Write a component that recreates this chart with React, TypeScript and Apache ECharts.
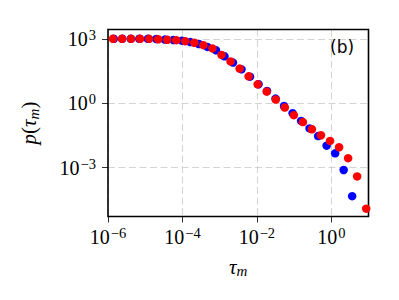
import React, { useEffect, useRef } from "react";
import * as echarts from "echarts";

// Waiting-time distribution p(tau_m), two estimates on log-log axes
const tauBlue = [
  1.43e-6, 2.42e-6, 4.1e-6, 6.93e-6, 1.175e-5, 1.99e-5, 3.37e-5, 5.71e-5, 9.66e-5,
  1.637e-4, 2.77e-4, 4.7e-4, 7.96e-4, 1.346e-3, 2.28e-3, 3.86e-3, 6.55e-3, 1.109e-2,
  1.875e-2, 3.18e-2, 5.38e-2, 9.12e-2, 0.1545, 0.261, 0.443, 0.75, 1.27, 2.15, 3.64,
];
const pBlue = [
  1000, 1000, 999, 997, 994, 977, 918, 879, 817, 703, 568, 417, 293, 153, 78.0, 37.8,
  17.3, 7.69, 3.72, 1.65, 0.743, 0.344, 0.151, 0.0673, 0.0295, 0.01064, 0.00467,
  7.85e-4, 4.73e-5,
];
const tauRed = [
  1.36e-6, 2.38e-6, 4.17e-6, 7.29e-6, 1.276e-5, 2.23e-5, 3.91e-5, 6.84e-5, 1.197e-4,
  2.09e-4, 3.66e-4, 6.41e-4, 1.122e-3, 1.963e-3, 3.44e-3, 6.01e-3, 1.052e-2, 1.84e-2,
  3.22e-2, 5.64e-2, 9.86e-2, 0.1726, 0.302, 0.528, 0.925, 1.62, 2.83, 4.95, 8.67,
];
const pRed = [
  1000, 1000, 999, 997, 993, 955, 899, 861, 774, 653, 505, 355, 177, 88.7, 41.1, 17.9,
  7.6, 3.49, 1.486, 0.632, 0.278, 0.133, 0.0614, 0.0324, 0.0176, 0.00897, 0.00277,
  3.94e-4, 1.24e-5,
];
const xTicks = [1e-6, 1e-4, 1e-2, 1];
const yTicks = [1e-3, 1, 1e3];
const xRange = [1e-6, 10];
const yRange = [5.36e-6, 2700];

const SERIF = '"Liberation Serif", "DejaVu Serif", serif';

function powLabel(v: number) {
  const e = Math.round(Math.log10(v));
  const exp = e < 0 ? "\u2212" + Math.abs(e) : String(e);
  return `{b|10}{s|${exp}}`;
}

const powRich = {
  b: { fontFamily: SERIF, fontSize: 20, color: "#000", lineHeight: 23 },
  s: { fontFamily: SERIF, fontSize: 14.5, color: "#000", lineHeight: 15, verticalAlign: "top", padding: [0, 0, 0, 1] },
};

const zip = (xs: number[], ys: number[]) => xs.map((x, i) => [x, ys[i]]);

export default function App() {
  const ref = useRef<HTMLDivElement>(null);

  useEffect(() => {
    if (!ref.current) return;
    const chart = echarts.init(ref.current, null, { renderer: "svg" });
    const splitLine = {
      show: true,
      lineStyle: { color: "#cfcfcf", width: 0.9, type: [7, 3.5] },
    };
    chart.setOption({
      animation: false,
      backgroundColor: "#fff",
      grid: {
        left: 108,
        right: 30.5,
        top: 29.5,
        bottom: 83.5,
        show: true,
        borderColor: "#000",
        borderWidth: 1.6,
        backgroundColor: "transparent",
        z: 3,
      },
      xAxis: {
        type: "log",
        logBase: 10,
        min: xRange[0],
        max: xRange[1],
        axisLine: { show: false },
        axisTick: {
          show: true,
          length: 6,
          lineStyle: { color: "#333", width: 1 },
          customValues: xTicks,
        },
        axisLabel: {
          margin: 9,
          customValues: xTicks,
          formatter: (v: number) => powLabel(v),
          rich: powRich,
        },
        splitLine,
        name: "{i|\u03c4}{sub|m}",
        nameLocation: "middle",
        nameGap: 38,
        nameTextStyle: {
          rich: {
            i: { fontFamily: SERIF, fontStyle: "italic", fontSize: 21, color: "#000", lineHeight: 24 },
            sub: { fontFamily: SERIF, fontStyle: "italic", fontSize: 15, color: "#000", lineHeight: 15, verticalAlign: "bottom" },
          },
        },
      },
      yAxis: {
        type: "log",
        logBase: 10,
        min: yRange[0],
        max: yRange[1],
        axisLine: { show: false },
        axisTick: {
          show: true,
          length: 6,
          lineStyle: { color: "#333", width: 1 },
          customValues: yTicks,
        },
        axisLabel: {
          margin: 12,
          customValues: yTicks,
          formatter: (v: number) => powLabel(v),
          rich: powRich,
        },
        splitLine,
        name: "{i|p}{r|(}{i|\u03c4}{sub|m}{r|)}",
        nameLocation: "middle",
        nameRotate: 90,
        nameGap: 67,
        nameTextStyle: {
          rich: {
            i: { fontFamily: SERIF, fontStyle: "italic", fontSize: 21, color: "#000", lineHeight: 24 },
            r: { fontFamily: SERIF, fontSize: 21, color: "#000", lineHeight: 24 },
            sub: { fontFamily: SERIF, fontStyle: "italic", fontSize: 15, color: "#000", lineHeight: 15, verticalAlign: "bottom" },
          },
        },
      },
      graphic: [
        {
          type: "text",
          x: 330,
          y: 47,
          style: {
            text: "(b)",
            fontFamily: '"DejaVu Sans", sans-serif',
            fontSize: 17,
            fill: "#000",
            verticalAlign: "middle",
          },
          z: 10,
        },
      ],
      series: [
        {
          type: "scatter",
          data: zip(tauBlue, pBlue),
          symbol: "circle",
          symbolSize: 8.5,
          itemStyle: { color: "#0000ff", opacity: 1 },
          z: 4,
        },
        {
          type: "scatter",
          data: zip(tauRed, pRed),
          symbol: "circle",
          symbolSize: 8.5,
          itemStyle: { color: "#ff0000", opacity: 1 },
          z: 5,
        },
      ],
    });
    return () => chart.dispose();
  }, []);

  return <div ref={ref} style={{ width: 399, height: 300, position: "absolute", left: 0, top: 0 }} />;
}
